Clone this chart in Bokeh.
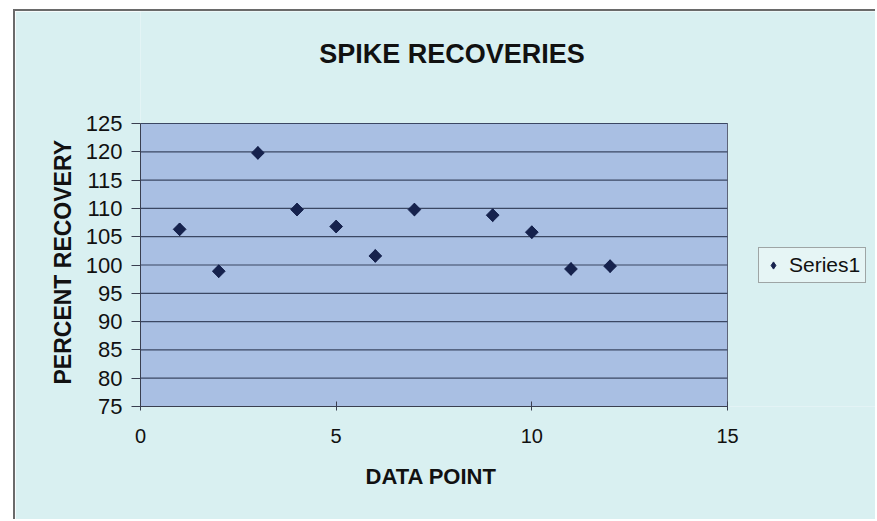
import math
from bokeh.plotting import figure
from bokeh.models import Legend, LegendItem, Range1d, FixedTicker, Label, BoxAnnotation, Title
from bokeh.embed import file_html
from bokeh.resources import INLINE

# ---- data ----
chart_title = "SPIKE RECOVERIES"
x_label = "DATA POINT"
y_label = "PERCENT RECOVERY"
series_name = "Series1"
data_point = [1, 2, 3, 4, 5, 6, 7, 9, 10, 11, 12]
percent_recovery = [106.3, 98.9, 119.8, 109.8, 106.8, 101.6, 109.8, 108.8, 105.8, 99.3, 99.8]
x_ticks = [0, 5, 10, 15]
y_ticks = [75, 80, 85, 90, 95, 100, 105, 110, 115, 120, 125]

FONT = "Liberation Sans"
NAVY = "#16224d"

# ---- layout geometry (pixels) ----
W, H = 862, 510
LEFT, BOTTOM = 125, 115          # room for the axes
PLOT_W, PLOT_H = 587, 283        # size of the blue plot area
frame_w, frame_h = W - LEFT, H - BOTTOM
x0, x1 = x_ticks[0], x_ticks[-1]
y0, y1 = y_ticks[0], y_ticks[-1]
x_end = x0 + (x1 - x0) * frame_w / PLOT_W
y_end = y0 + (y1 - y0) * frame_h / PLOT_H

p = figure(width=W, height=H, output_backend="svg", toolbar_location=None,
           x_range=Range1d(x0, x_end), y_range=Range1d(y0, y_end),
           min_border_left=LEFT, min_border_right=0, min_border_top=0, min_border_bottom=BOTTOM)
p.margin = (9, 0, 0, 13)
p.styles = {"border-left": "2px solid #6a6a6a", "border-top": "2px solid #6a6a6a"}

p.border_fill_color = "#d9f0f1"
p.background_fill_color = "#d9f0f1"
p.outline_line_color = None
p.xgrid.visible = False
p.ygrid.visible = False

# blue plot area
p.add_layout(BoxAnnotation(left=x0, right=x1, bottom=y0, top=y1, level="underlay",
                           fill_color="#a9bfe3", fill_alpha=1.0,
                           line_color="#5d6478", line_width=1, line_alpha=1.0))

# horizontal gridlines at the y ticks
p.segment(x0=[x0] * len(y_ticks), x1=[x1] * len(y_ticks), y0=y_ticks, y1=y_ticks,
          line_color="#3b4763", line_width=1.2)

# diamond renderer (hidden under the points) gives the legend its glyph
r_leg = p.scatter(data_point, percent_recovery, marker="diamond", size=12.5,
                  fill_color=NAVY, line_color=NAVY)
r = p.scatter(data_point, percent_recovery, marker="square", angle=math.pi / 4, size=9,
              fill_color=NAVY, line_color=NAVY)

# axes
for ax in (p.xaxis[0], p.yaxis[0]):
    ax.major_label_text_font = FONT
    ax.major_label_text_color = "#111111"
    ax.axis_line_color = "#3a3f50"
    ax.major_tick_line_color = "#3a3f50"
    ax.minor_tick_line_color = None

p.xaxis.bounds = (x0, x1)
p.yaxis.bounds = (y0, y1)
p.xaxis.major_label_text_font_size = "20px"
p.yaxis.major_label_text_font_size = "22px"
p.xaxis.ticker = FixedTicker(ticks=x_ticks)
p.yaxis.ticker = FixedTicker(ticks=y_ticks)
p.xaxis.major_tick_in = 5
p.xaxis.major_tick_out = 4
p.xaxis.major_label_standoff = 18
p.yaxis.major_tick_in = 0
p.yaxis.major_tick_out = 9
p.yaxis.major_label_standoff = 9

# axis titles, placed along the plot area (not the whole frame)
p.add_layout(Title(text=y_label, align="left", offset=22, standoff=13,
                   text_font=FONT, text_font_size="23px", text_font_style="bold",
                   text_color="#111111"), "left")
p.add_layout(Title(text=x_label, align="left", offset=225, vertical_align="top", standoff=37,
                   text_font=FONT, text_font_size="22px", text_font_style="bold",
                   text_color="#111111"), "below")

# chart title (above the plot area, inside the frame)
px_per_x = PLOT_W / (x1 - x0)
px_per_y = PLOT_H / (y1 - y0)
p.add_layout(Label(x=x0 + 311.5 / px_per_x, y=y1 + 70 / px_per_y, text=chart_title,
                   text_font=FONT, text_font_size="27px", text_font_style="bold",
                   text_align="center", text_baseline="middle", text_color="#111111"))

legend = Legend(items=[LegendItem(label=series_name, renderers=[r_leg])],
                location=(618, 123), label_text_font=FONT, label_text_font_size="21px",
                label_text_color="#111111", border_line_color="#555555",
                background_fill_color="#e6f5f5", background_fill_alpha=1.0,
                padding=5, spacing=0, label_standoff=7, glyph_width=18, glyph_height=20,
                label_height=22, margin=0)
p.add_layout(legend, "center")

open("out.html", "w").write(file_html(p, INLINE))
